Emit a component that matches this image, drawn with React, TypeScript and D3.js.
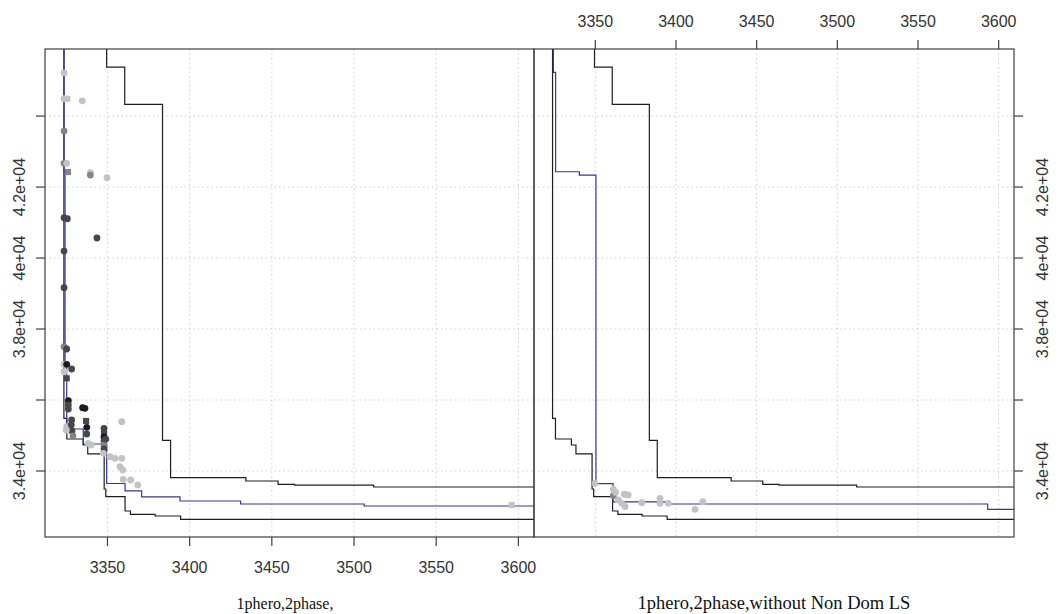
import React from "react";
import * as d3 from "d3";

// ---------- data ----------
const xTicks = [3350, 3400, 3450, 3500, 3550, 3600];
const xTickLabels = ["3350", "3400", "3450", "3500", "3550", "3600"];
const yTicks = [34000, 36000, 38000, 40000, 42000, 44000];
const yTickLabels = ["3.4e+04", "", "3.8e+04", "4e+04", "4.2e+04", ""];
const panelTitles = ["1phero,2phase,", "1phero,2phase,without Non Dom LS"];

// upper black front (same in both panels): at x the front drops to y
const upperDropX = [3349.5, 3360.5, 3383.5, 3388.4, 3434.2, 3453.8, 3463.9, 3512.0];
const upperDropY = [45380, 44330, 34865, 33811, 33718, 33625, 33600, 33549];

// lower black front (same in both panels)
const lowerDropX = [3323.5, 3325.3, 3335.2, 3338.0, 3348.0, 3349.0, 3360.7, 3364.0, 3379.0, 3394.5];
const lowerDropY = [35485, 34901, 34732, 34480, 33493, 33276, 32873, 32775, 32732, 32639];

// blue front, left panel
const blueLeftDropX = [3323.6, 3324.2, 3325.2, 3335.3, 3349.5, 3360.7, 3370.8, 3394.1, 3431.0, 3506.2];
const blueLeftDropY = [42430, 37006, 35183, 34761, 33648, 33437, 33268, 33155, 33070, 33014];

// blue front, right panel
const blueRightDropX = [3324.0, 3325.4, 3340.1, 3350.4, 3361.0, 3394.4, 3593.2];
const blueRightDropY = [45231, 42431, 42338, 33642, 33127, 33070, 32921];

// points, left panel (shade: 0 light, 1 medium, 2 dark, 3 black; shape: c circle, s square)
const leftPtsX = [
  3323.6, 3323.6, 3325.6, 3334.7, 3323.6, 3323.6, 3325.2, 3326.0, 3339.6, 3339.6,
  3349.7, 3323.6, 3325.6, 3343.6, 3323.6, 3323.6, 3323.6, 3325.2, 3323.6, 3325.2,
  3323.6, 3328.2, 3325.2, 3326.2, 3326.2, 3326.2, 3334.9, 3336.3, 3328.2, 3327.2,
  3325.2, 3328.4, 3337.4, 3337.4, 3337.0, 3347.9, 3347.9, 3347.9, 3347.9, 3347.9,
  3347.9, 3349.0, 3358.7, 3338.3, 3340.0, 3347.5, 3351.5, 3354.6, 3358.7, 3357.6,
  3359.3, 3359.6, 3364.1, 3368.4, 3595.9, 3325.0, 3329.0, 3328.0,
];
const leftPtsY = [
  45220, 44488, 44488, 44431, 43578, 42668, 42668, 42423, 42403, 42338,
  42262, 41135, 41107, 40564, 40197, 39164, 37502, 37437, 37006, 37006,
  36797, 36873, 36611, 35980, 35859, 35747, 35783, 35766, 35437, 35248,
  35248, 35127, 35231, 35042, 35409, 35203, 35070, 34958, 34845, 34732,
  34620, 34900, 35389, 34780, 34732, 34499, 34403, 34358, 34358, 34121,
  34028, 33766, 33746, 33606, 33042, 35150, 34990, 35300,
];
const leftPtsShade = [
  0, 0, 0, 0, 1, 1, 0, 1, 0, 1,
  0, 2, 2, 2, 2, 2, 1, 2, 0, 3,
  0, 2, 2, 3, 2, 2, 3, 3, 2, 1,
  0, 2, 3, 2, 2, 2, 2, 3, 2, 1,
  2, 2, 0, 0, 0, 0, 0, 0, 0, 0,
  0, 0, 0, 0, 0, 0, 1, 2,
];
const leftPtsShape = [
  "c", "c", "s", "c", "c", "c", "c", "s", "c", "c",
  "c", "c", "c", "c", "c", "c", "c", "c", "c", "c",
  "c", "c", "s", "c", "c", "c", "c", "c", "c", "c",
  "c", "c", "c", "c", "s", "c", "s", "c", "c", "c",
  "c", "c", "c", "c", "c", "c", "c", "c", "c", "c",
  "c", "c", "c", "c", "s", "c", "c", "c",
];

// points, right panel
const rightPtsX = [3349.8, 3361.2, 3361.2, 3364.2, 3368.0, 3370.4, 3368.4, 3366.4, 3378.8, 3390.1, 3390.1, 3395.2, 3411.8, 3416.6, 3362.5];
const rightPtsY = [33653, 33484, 33304, 33183, 33344, 33324, 32994, 33090, 33107, 33231, 33090, 33090, 32921, 33135, 33400];
const rightPtsShade = [0, 0, 1, 0, 0, 0, 0, 0, 0, 0, 0, 0, 0, 0, 0];

// ---------- layout / style ----------
const W = 1063;
const H = 614;
const TOP = 49;
const BOTTOM = 537;
const PANELS = [
  { x0: 45, x1: 534, titleX: 285, titleSize: 16 },
  { x0: 534, x1: 1014, titleX: 774, titleSize: 18.5 },
];
const X_DOMAIN: [number, number] = [3312, 3609.5];
const Y_DOMAIN: [number, number] = [32140, 45890];
const Y_TOP_START = 47000;
const X_END = 3650;
const SHADES = ["#c3c3c3", "#858585", "#474747", "#1c1c1c"];
const BLUE = "#3434a8";
const LINE = "#1e1e1e";
const BORDER = "#404040";
const GRID = "#cfcfcf";
const R = 3.4;

function stairs(dx: number[], dy: number[]): [number, number][] {
  const pts: [number, number][] = [[dx[0], Y_TOP_START]];
  dx.forEach((x, i) => pts.push([x, dy[i]]));
  pts.push([X_END, dy[dy.length - 1]]);
  return pts;
}

function Panel({ idx }: { idx: number }) {
  const p = PANELS[idx];
  const x = d3.scaleLinear().domain(X_DOMAIN).range([p.x0, p.x1]);
  const y = d3.scaleLinear().domain(Y_DOMAIN).range([BOTTOM, TOP]);
  const line = d3
    .line<[number, number]>()
    .x((d) => x(d[0]))
    .y((d) => y(d[1]))
    .curve(d3.curveStepAfter);
  const blue =
    idx === 0 ? stairs(blueLeftDropX, blueLeftDropY) : stairs(blueRightDropX, blueRightDropY);
  const clipId = `clip${idx}`;

  const pts =
    idx === 0
      ? leftPtsX.map((v, i) => ({ x: v, y: leftPtsY[i], s: leftPtsShade[i], sh: leftPtsShape[i] }))
      : rightPtsX.map((v, i) => ({ x: v, y: rightPtsY[i], s: rightPtsShade[i], sh: "c" }));

  return (
    <g>
      <defs>
        <clipPath id={clipId}>
          <rect x={p.x0} y={TOP} width={p.x1 - p.x0} height={BOTTOM - TOP} />
        </clipPath>
      </defs>
      <g clipPath={`url(#${clipId})`}>
        {xTicks.map((t) => (
          <line
            key={"gx" + t}
            x1={x(t)}
            x2={x(t)}
            y1={TOP}
            y2={BOTTOM}
            stroke={GRID}
            strokeDasharray="1.5 3"
          />
        ))}
        {yTicks.map((t) => (
          <line
            key={"gy" + t}
            x1={p.x0}
            x2={p.x1}
            y1={y(t)}
            y2={y(t)}
            stroke={GRID}
            strokeDasharray="1.5 3"
          />
        ))}
        <path d={line(stairs(upperDropX, upperDropY)) || ""} fill="none" stroke={LINE} strokeWidth={1.2} />
        <path d={line(stairs(lowerDropX, lowerDropY)) || ""} fill="none" stroke={LINE} strokeWidth={1.2} />
        <path d={line(blue) || ""} fill="none" stroke={BLUE} strokeWidth={1.2} />
        {pts.map((d, i) =>
          d.sh === "s" ? (
            <rect
              key={"p" + i}
              x={x(d.x) - R * 0.9}
              y={y(d.y) - R * 0.9}
              width={R * 1.8}
              height={R * 1.8}
              fill={SHADES[d.s]}
            />
          ) : (
            <circle key={"p" + i} cx={x(d.x)} cy={y(d.y)} r={R} fill={SHADES[d.s]} />
          )
        )}
      </g>
      <rect
        x={p.x0}
        y={TOP}
        width={p.x1 - p.x0}
        height={BOTTOM - TOP}
        fill="none"
        stroke={BORDER}
        strokeWidth={1.2}
      />
      {idx === 0 &&
        xTicks.map((t, i) => (
          <g key={"bx" + t}>
            <line x1={x(t)} x2={x(t)} y1={BOTTOM} y2={BOTTOM + 9} stroke={BORDER} strokeWidth={1.2} />
            <text
              x={x(t)}
              y={573}
              textAnchor="middle"
              fontFamily="'Liberation Sans', Arial, sans-serif"
              fontSize={16}
              fill="#333"
            >
              {xTickLabels[i]}
            </text>
          </g>
        ))}
      {idx === 1 &&
        xTicks.map((t, i) => (
          <g key={"tx" + t}>
            <line x1={x(t)} x2={x(t)} y1={TOP} y2={TOP - 9} stroke={BORDER} strokeWidth={1.2} />
            <text
              x={x(t)}
              y={27}
              textAnchor="middle"
              fontFamily="'Liberation Sans', Arial, sans-serif"
              fontSize={16}
              fill="#333"
            >
              {xTickLabels[i]}
            </text>
          </g>
        ))}
      {yTicks.map((t, i) => {
        const isLeft = idx === 0;
        const tx = isLeft ? p.x0 : p.x1;
        const dir = isLeft ? -1 : 1;
        const lx = isLeft ? 25 : 1048;
        return (
          <g key={"yt" + t}>
            <line x1={tx} x2={tx + dir * 9} y1={y(t)} y2={y(t)} stroke={BORDER} strokeWidth={1.2} />
            {yTickLabels[i] && (
              <text
                transform={`translate(${lx},${y(t)}) rotate(-90)`}
                textAnchor="middle"
                fontFamily="'Liberation Sans', Arial, sans-serif"
                fontSize={16}
                fill="#333"
              >
                {yTickLabels[i]}
              </text>
            )}
          </g>
        );
      })}
      <text
        x={p.titleX}
        y={609}
        textAnchor="middle"
        fontFamily="'Liberation Serif', 'Times New Roman', serif"
        fontSize={p.titleSize}
        fill="#111"
      >
        {panelTitles[idx]}
      </text>
    </g>
  );
}

export default function App() {
  return (
    <svg
      width={W}
      height={H}
      viewBox={`0 0 ${W} ${H}`}
      style={{ position: "absolute", left: 0, top: 0, background: "#fff" }}
    >
      <rect x={0} y={0} width={W} height={H} fill="#fff" />
      <Panel idx={0} />
      <Panel idx={1} />
    </svg>
  );
}
